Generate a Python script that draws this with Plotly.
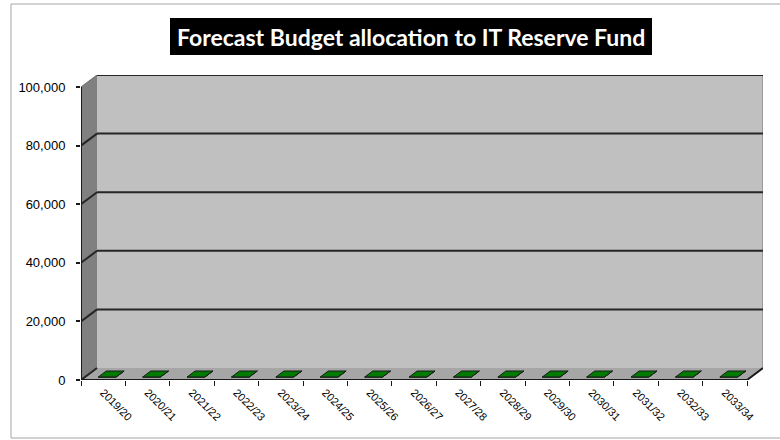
import plotly.graph_objects as go

# Budget years and forecast allocation (all years currently zero)
years = ["2019/20", "2020/21", "2021/22", "2022/23", "2023/24", "2024/25", "2025/26",
         "2026/27", "2027/28", "2028/29", "2029/30", "2030/31", "2031/32", "2032/33", "2033/34"]
allocation = [0, 0, 0, 0, 0, 0, 0, 0, 0, 0, 0, 0, 0, 0, 0]
y_ticks = [0, 20000, 40000, 60000, 80000, 100000]
y_max = 100000

# Canvas and plot-area geometry (pixels)
W, H = 780, 440
ML, MR, MT, MB = 81, 17, 75, 60
PW, PH = W - ML - MR, H - MT - MB
DEPTH_PX_X, DEPTH_PX_Y = 16, 12          # oblique depth of the 3-D box

n = len(years)
cat_px = (PW - DEPTH_PX_X) / n
DX = DEPTH_PX_X / cat_px                 # depth offset in category units
y_px = (PH - DEPTH_PX_Y) / y_max
DY = DEPTH_PX_Y / y_px                   # depth offset in value units

x_lo, x_hi = -0.5, n - 0.5


def paper_x(px):
    return (px - ML) / PW


def paper_y(py):
    return (H - MB - py) / PH


shapes = []
# back wall
shapes.append(dict(type="rect", xref="x", yref="y", layer="below",
                   x0=x_lo + DX, x1=x_hi + DX, y0=DY, y1=y_max + DY,
                   fillcolor="#c0c0c0", line=dict(width=0)))
# left side wall
shapes.append(dict(type="path", xref="x", yref="y", layer="below",
                   path=f"M {x_lo},0 L {x_lo + DX},{DY} L {x_lo + DX},{y_max + DY} L {x_lo},{y_max} Z",
                   fillcolor="#808080", line=dict(width=0)))
# floor
shapes.append(dict(type="path", xref="x", yref="y", layer="below",
                   path=f"M {x_lo},0 L {x_hi},0 L {x_hi + DX},{DY} L {x_lo + DX},{DY} Z",
                   fillcolor="#a6a6a6", line=dict(width=0)))
# right edge of the back wall
shapes.append(dict(type="line", xref="x", yref="y", layer="below",
                   x0=x_hi + DX, x1=x_hi + DX, y0=DY, y1=y_max + DY,
                   line=dict(color="#9a9a9a", width=2)))
# gridlines across the back wall and the side wall
for v in y_ticks:
    if v > 0:
        shapes.append(dict(type="line", xref="x", yref="y", layer="below",
                           x0=x_lo + DX, x1=x_hi + DX, y0=v + DY, y1=v + DY,
                           line=dict(color="#262626", width=2)))
    shapes.append(dict(type="line", xref="x", yref="y", layer="below",
                       x0=x_lo, x1=x_lo + DX, y0=v, y1=v + DY,
                       line=dict(color="#262626" if v < y_max else "#6a6a6a", width=2 if v < y_max else 1)))
# front value axis and front floor edge
shapes.append(dict(type="line", xref="x", yref="y", layer="below",
                   x0=x_lo, x1=x_lo, y0=0, y1=y_max, line=dict(color="#1a1a1a", width=2)))
shapes.append(dict(type="line", xref="x", yref="y", layer="below",
                   x0=x_lo, x1=x_hi, y0=0, y1=0, line=dict(color="#1a1a1a", width=2)))
shapes.append(dict(type="line", xref="x", yref="y", layer="below",
                   x0=x_hi, x1=x_hi + DX, y0=0, y1=DY, line=dict(color="#1a1a1a", width=2)))
# chart frame
shapes.append(dict(type="rect", xref="paper", yref="paper", layer="below",
                   x0=paper_x(11), x1=paper_x(W + 10), y0=paper_y(438), y1=paper_y(4),
                   line=dict(color="#a6a6a6", width=1), fillcolor="rgba(0,0,0,0)"))
# title box
shapes.append(dict(type="rect", xref="paper", yref="paper", layer="above",
                   x0=paper_x(170), x1=paper_x(652), y0=paper_y(55), y1=paper_y(18),
                   fillcolor="#000000", line=dict(width=0)))

# 3-D columns: front face, side face and top face built from the values
half_w = 0.2
d0, d1 = 0.25, 0.75
front_x, front_y, side_x, side_y, top_x, top_y = [], [], [], [], [], []
for i, v in enumerate(allocation):
    xl, xr = i - half_w, i + half_w
    a_x, a_y = d0 * DX, d0 * DY
    b_x, b_y = d1 * DX, d1 * DY
    front_x += [xl + a_x, xr + a_x, xr + a_x, xl + a_x, xl + a_x, None]
    front_y += [a_y, a_y, v + a_y, v + a_y, a_y, None]
    side_x += [xr + a_x, xr + b_x, xr + b_x, xr + a_x, xr + a_x, None]
    side_y += [a_y, b_y, v + b_y, v + a_y, a_y, None]
    top_x += [xl + a_x, xr + a_x, xr + b_x, xl + b_x, xl + a_x, None]
    top_y += [v + a_y, v + a_y, v + b_y, v + b_y, v + a_y, None]

fig = go.Figure()
for fx, fy, col in [(front_x, front_y, "#006000"), (side_x, side_y, "#004400"), (top_x, top_y, "#007a00")]:
    fig.add_trace(go.Scatter(x=fx, y=fy, mode="lines", fill="toself", fillcolor=col,
                             line=dict(color="#1a1a1a", width=1), hoverinfo="skip",
                             showlegend=False))

fig.add_annotation(xref="paper", yref="paper", x=paper_x(411), y=paper_y(36.5),
                   text="<b>Forecast Budget allocation to IT Reserve Fund</b>", showarrow=False,
                   font=dict(family="Lato", size=23, color="#ffffff"),
                   xanchor="center", yanchor="middle")

fig.update_layout(
    width=W, height=H,
    margin=dict(l=ML, r=MR, t=MT, b=MB, pad=0),
    paper_bgcolor="#ffffff", plot_bgcolor="rgba(0,0,0,0)",
    shapes=shapes,
    showlegend=False,
    xaxis=dict(range=[x_lo, x_hi + DX], tickmode="array", tickvals=list(range(n)), ticktext=years,
               tickangle=45, ticks="", showgrid=False, zeroline=False, showline=False,
               tickfont=dict(family="Liberation Sans", size=11, color="#000000"),
               ticklabelstandoff=3,
               minor=dict(tickmode="linear", tick0=-0.5, dtick=1, ticks="outside", ticklen=5,
                          tickcolor="#1a1a1a", tickwidth=1, showgrid=False),
               fixedrange=True),
    yaxis=dict(range=[0, y_max + DY], tickmode="array", tickvals=y_ticks,
               ticktext=[f"{v:,}" for v in y_ticks], ticks="outside", ticklen=4,
               tickcolor="#1a1a1a", tickwidth=2, showgrid=False, zeroline=False, showline=False,
               tickfont=dict(family="Liberation Sans", size=13, color="#000000"),
               ticklabelstandoff=8, fixedrange=True),
)

fig.write_html("out.html")
